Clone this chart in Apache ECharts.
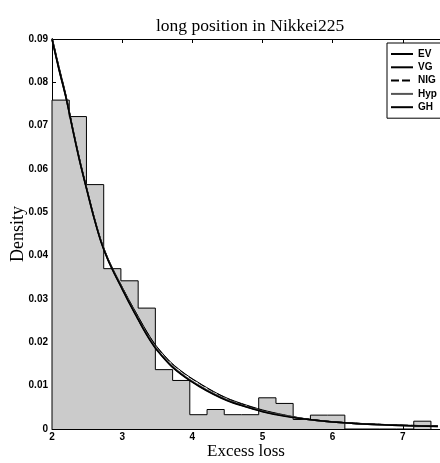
<!DOCTYPE html>
<html>
<head>
<meta charset="utf-8">
<script src="https://cdn.jsdelivr.net/npm/echarts@6/dist/echarts.min.js"></script>
<style>html,body{margin:0;padding:0;background:#fff;}#c{width:440px;height:463px;}</style>
</head>
<body>
<div id="c"></div>
<script>
// ---- data ----
const titleText = 'long position in Nikkei225';
const xName = 'Excess loss';
const yName = 'Density';
const seriesNames = ['EV', 'VG', 'NIG', 'Hyp', 'GH'];
const yTickLabels = ['0','0.01','0.02','0.03','0.04','0.05','0.06','0.07','0.08','0.09'];
const xTickLabels = ['2','3','4','5','6','7'];

const binEdges = [2.000, 2.246, 2.491, 2.737, 2.982, 3.228, 3.473, 3.719, 3.964, 4.210, 4.455,
                  4.701, 4.946, 5.192, 5.437, 5.683, 5.928, 6.174, 6.419, 6.665, 6.910, 7.156, 7.401];
const binDensity = [0.0759, 0.0721, 0.0564, 0.0370, 0.0342, 0.0279, 0.0137, 0.0112, 0.0033, 0.0045, 0.0033,
                    0.0033, 0.0072, 0.0059, 0.0022, 0.0032, 0.0032, 0, 0, 0, 0, 0.0018];

const curveX = [2.0,2.1,2.2,2.3,2.4,2.5,2.6,2.7,2.8,2.9,3.0,3.1,3.2,3.3,3.4,3.5,3.7,3.9,4.1,4.3,4.5,4.7,5.0,5.3,5.6,6.0,6.5,7.0,7.5];
const evY  = [0.0900,0.0830,0.0765,0.0688,0.0615,0.0550,0.0487,0.0432,0.0390,0.0356,0.0324,0.0292,0.0262,0.0232,0.0205,0.0182,0.0146,0.0120,0.0099,0.0081,0.0066,0.0055,0.0041,0.0031,0.0023,0.0016,0.0011,0.0008,0.0006];
const vgY  = [0.0905,0.0836,0.0770,0.0692,0.0619,0.0553,0.0490,0.0435,0.0393,0.0359,0.0328,0.0297,0.0268,0.0239,0.0212,0.0189,0.0153,0.0127,0.0106,0.0087,0.0071,0.0059,0.0044,0.0033,0.0024,0.0017,0.0012,0.0009,0.0007];
const nigY = [0.0905,0.0835,0.0769,0.0691,0.0618,0.0552,0.0489,0.0434,0.0392,0.0358,0.0327,0.0296,0.0267,0.0238,0.0211,0.0188,0.0152,0.0126,0.0105,0.0086,0.0070,0.0058,0.0043,0.0032,0.0024,0.0017,0.0012,0.0009,0.0007];
const hypY = [0.0901,0.0831,0.0766,0.0689,0.0616,0.0551,0.0488,0.0433,0.0391,0.0357,0.0325,0.0293,0.0263,0.0233,0.0206,0.0183,0.0147,0.0121,0.0100,0.0082,0.0067,0.0055,0.0041,0.0031,0.0023,0.0016,0.0011,0.0008,0.0006];
const ghY  = [0.0899,0.0829,0.0764,0.0687,0.0614,0.0549,0.0486,0.0431,0.0389,0.0355,0.0323,0.0291,0.0261,0.0231,0.0204,0.0181,0.0145,0.0119,0.0098,0.0080,0.0065,0.0054,0.0040,0.0030,0.0023,0.0016,0.0011,0.0008,0.0006];

// ---- build ----
const curves = [evY, vgY, nigY, hypY, ghY];
const histStep = [[binEdges[0], 0]];
for (let i = 0; i < binDensity.length; i++) histStep.push([binEdges[i], binDensity[i]]);
histStep.push([binEdges[binEdges.length - 1], binDensity[binDensity.length - 1]]);
histStep.push([binEdges[binEdges.length - 1], 0]);

const lineStyles = [
  {color:'#000', width:1.4, type:'solid'},
  {color:'#000', width:1.0, type:'solid'},
  {color:'#000', width:1.0, type:[8,3]},
  {color:'#555', width:1.6, type:'solid'},
  {color:'#000', width:1.6, type:'solid'}
];

const labelFont = {fontFamily:'Liberation Sans, Arial, sans-serif', fontSize:10, fontWeight:'bold', color:'#000'};
const serif = 'Liberation Serif, Times New Roman, serif';

const chart = echarts.init(document.getElementById('c'), null, {renderer:'canvas'});
const series = [{
  name:'hist', type:'line', step:'end', data:histStep, symbol:'none',
  lineStyle:{color:'#000', width:1},
  areaStyle:{color:'#cbcbcb', opacity:1},
  z:1, silent:true
}];
seriesNames.forEach((n, k) => {
  series.push({
    name:n, type:'line', smooth:0.3, symbol:'none', showSymbol:false,
    data: curveX.map((x, i) => [x, curves[k][i]]),
    lineStyle: lineStyles[k], itemStyle:{color: lineStyles[k].color},
    z: 3
  });
});

chart.setOption({
  animation:false,
  backgroundColor:'#fff',
  title:{text:titleText, left:151, top:12, textStyle:{fontFamily:serif, fontSize:17.5, fontWeight:'normal', color:'#000'}},
  legend:{
    show:true,
    data: seriesNames, orient:'vertical', left:387, top:43,
    itemWidth:22, itemHeight:10, itemGap:3.3, padding:[6,6,6,3],
    borderColor:'#000', borderWidth:1, backgroundColor:'#fff',
    itemStyle:{opacity:0},
    textStyle:{fontFamily:'Liberation Sans, Arial, sans-serif', fontSize:10, fontWeight:'bold', color:'#000'}
  },
  grid:{left:52, right:0, top:39, bottom:34, containLabel:false, outerBoundsMode:'none'},
  xAxis:[{
    type:'value', min:2, max:7.53, interval:1, position:'bottom',
    name:xName, nameLocation:'middle', nameGap:14, nameMoveOverlap:false,
    nameTextStyle:{fontFamily:serif, fontSize:17, color:'#000'},
    axisLine:{show:true, lineStyle:{color:'#000', width:1}},
    axisTick:{show:true, inside:true, length:4, lineStyle:{color:'#000'}},
    axisLabel:{...labelFont, margin:3, showMaxLabel:false, formatter:(v)=>{const i = xTickLabels.indexOf(String(Math.round(v*100)/100)); return i>=0?xTickLabels[i]:'';}},
    splitLine:{show:false}
  },{
    type:'value', min:2, max:7.53, interval:1, position:'top',
    axisLine:{show:true, lineStyle:{color:'#000', width:1}},
    axisTick:{show:true, inside:true, length:4, lineStyle:{color:'#000'}},
    axisLabel:{show:false}, splitLine:{show:false}
  }],
  yAxis:{
    type:'value', min:0, max:0.09, interval:0.01,
    name:yName, nameLocation:'middle', nameGap:25, nameMoveOverlap:false,
    nameTextStyle:{fontFamily:serif, fontSize:18, color:'#000'},
    axisLine:{show:true, lineStyle:{color:'#000', width:1}},
    axisTick:{show:true, inside:true, length:4, lineStyle:{color:'#000'}},
    axisLabel:{...labelFont, margin:4, formatter:(v)=>yTickLabels[Math.round(v*100)] || ''},
    splitLine:{show:false}
  },
  series: series
});
</script>
</body>
</html>
